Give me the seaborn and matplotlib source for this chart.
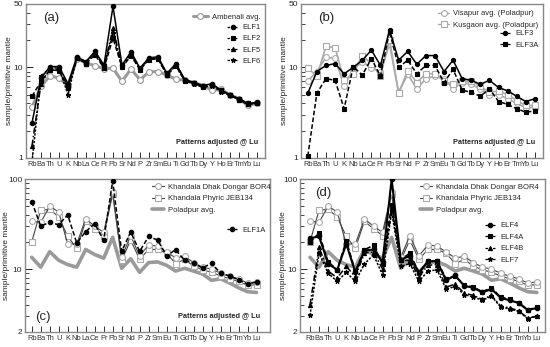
import numpy as np
import pandas as pd
import matplotlib
matplotlib.use("Agg")
import matplotlib.pyplot as plt
from matplotlib.lines import Line2D
from matplotlib.ticker import FixedLocator, NullFormatter
import seaborn as sns

sns.set_style("ticks")
plt.rcParams['font.family'] = ['Liberation Sans', 'DejaVu Sans']

elements = ["Rb", "Ba", "Th", "U", "K", "Nb", "La", "Ce", "Pr", "Pb", "Sr", "Nd", "P",
            "Zr", "Sm", "Eu", "Ti", "Gd", "Tb", "Dy", "Y", "Ho", "Er", "Tm", "Yb", "Lu"]

# Panel (a)
ambenali = [3.65, 6.2, 8.1, 7.6, 6.3, 12.5, 11.2, 10.4, 9.7, 9.8, 7.0, 9.6, 7.3,
            8.9, 9.0, 8.2, 7.4, 7.2, 6.8, 6.3, 5.6, 5.7, 5.0, 4.5, 3.8, 4.0]
elf1 = [2.45, 7.6, 10.2, 10.2, 6.6, 13.0, 11.6, 15.0, 10.6, 47, 10.6, 14.8, 9.8,
        12.8, 13.0, 8.6, 11.0, 7.3, 6.8, 6.3, 6.6, 5.6, 5.0, 4.5, 4.0, 4.1]
elf2 = [4.8, 7.0, 9.4, 9.2, 5.9, 12.7, 11.0, 13.8, 9.8, 21, 10.0, 13.4, 9.4,
        12.2, 12.4, 8.2, 10.4, 7.0, 6.7, 6.0, 6.4, 5.6, 4.9, 4.5, 4.0, 4.0]
elf5 = [1.37, 6.6, 9.6, 9.5, 6.2, 12.8, 11.0, 14.6, 10.0, 27, 10.4, 14.4, 9.6,
        12.5, 12.7, 8.5, 10.8, 7.2, 6.8, 6.2, 6.4, 5.5, 5.0, 4.4, 3.9, 4.1]
elf6 = [0.9, 8.0, 9.9, 9.8, 5.0, 13.0, 11.5, 14.8, 10.0, 24, 10.0, 14.2, 9.5,
        12.4, 12.5, 8.3, 10.5, 7.0, 6.6, 6.0, 6.3, 5.4, 4.9, 4.4, 3.9, 4.0]

# Panel (b)
visapur = [7.1, 9.0, 12.9, 12.6, 6.2, 9.5, 11.5, 9.8, 9.0, 18, 5.3, 8.4, 5.8,
           7.5, 8.0, 7.5, 5.8, 6.8, 6.5, 5.8, 5.0, 5.0, 4.5, 4.0, 3.6, 3.6]
kusgaon = [9.8, 8.0, 17, 16.5, 7.2, 8.5, 13.5, 11.0, 8.0, 20, 5.2, 9.2, 6.8,
           8.5, 8.5, 7.0, 6.5, 7.0, 7.0, 6.2, 5.3, 5.5, 5.0, 4.3, 3.8, 3.8]
elf3 = [5.2, 9.0, 10.5, 11.0, 8.5, 10.0, 12.0, 15.5, 10.5, 26, 12.0, 15.0, 10.8,
        13.5, 13.5, 9.0, 12.0, 7.5, 7.2, 6.5, 7.2, 6.0, 5.5, 4.8, 4.2, 4.5]
elf3a = [1.05, 5.2, 7.5, 7.2, 3.5, 10.2, 8.2, 12.5, 8.0, 25, 10.0, 12.0, 8.5,
         10.5, 10.5, 6.8, 9.5, 5.6, 5.3, 4.8, 5.8, 4.2, 3.9, 3.5, 3.2, 3.3]

# Panels (c) and (d) references
bor4 = [34, 33, 50, 43, 19, 19, 36, 30, 25.5, 72, 13.5, 23.5, 14.0,
        18.5, 18.0, 15.5, 13.3, 13.8, 11.8, 10.5, 10.0, 9.0, 8.3, 7.8, 7.0, 7.2]
jeb134 = [20, 45, 46, 38, 23, 17, 34, 28, 23.5, 68, 12.5, 21, 12.8,
          16.5, 16.5, 15.0, 11.5, 12.8, 10.8, 9.8, 9.2, 8.4, 7.8, 7.3, 6.6, 6.7]
poladpur = [13.5, 10.5, 15.6, 12.5, 11.2, 10.5, 16.5, 14.5, 13.2, 22.5, 10.2, 13.0, 9.2,
            11.8, 12.0, 11.0, 9.5, 10.2, 9.5, 8.8, 7.5, 7.8, 7.0, 6.2, 5.6, 5.5]
elf1a = [56, 30, 33, 31, 40, 19.5, 26, 32, 20.8, 95, 15.7, 25.8, 15.7,
         23, 21, 14, 16.4, 12.5, 11.6, 10.3, 11.6, 9.0, 8.4, 7.6, 6.8, 7.2]

# Panel (d)
elf4 = [22, 23, 11.5, 9.8, 19, 9.2, 16.0, 16.5, 12.0, 100, 12.7, 14.0, 9.0,
        12.2, 12.2, 7.5, 8.5, 6.5, 6.2, 5.5, 6.0, 4.8, 4.5, 4.2, 3.5, 3.7]
elf4a = [20, 25, 12.0, 9.8, 20.6, 9.4, 16.4, 18.3, 11.4, 52, 12.7, 15.0, 9.2,
         12.2, 12.3, 7.8, 8.3, 6.7, 6.3, 5.6, 6.2, 4.9, 4.6, 4.2, 3.55, 3.75]
elf4b = [4.0, 17.4, 9.5, 8.0, 10.7, 8.2, 15.0, 15.5, 10.0, 46, 12.5, 12.5, 8.2,
         11.0, 11.2, 6.3, 6.8, 5.4, 5.1, 4.6, 5.1, 3.9, 3.7, 3.45, 2.85, 3.0]
elf7 = [3.05, 15.0, 9.0, 7.3, 9.2, 7.3, 11.4, 14.4, 8.6, 43, 10.7, 11.5, 7.3,
        9.5, 9.8, 6.0, 6.4, 5.2, 4.9, 4.5, 5.0, 3.8, 3.6, 3.4, 2.8, 3.0]

x = np.arange(len(elements))
GRAY = "#9a9a9a"
DARK = "#444444"
LIGHT = "#aaaaaa"
FS = 5.5
BLW = 1.1


def draw(ax, vals, color, lw, marker=None, ms=3.5, mfc=None, mec=None, ls="-", z=2):
    df = pd.DataFrame({"pos": x, "val": vals})
    kw = dict(color=color, linewidth=lw, linestyle=ls, zorder=z)
    if marker is not None:
        kw.update(marker=marker, markersize=ms,
                  markerfacecolor=mfc if mfc is not None else color,
                  markeredgecolor=mec if mec is not None else color,
                  markeredgewidth=0.8)
    sns.lineplot(data=df, x="pos", y="val", ax=ax, sort=False, **kw)


def handle(color, lw, marker=None, ms=3.5, mfc=None, mec=None, ls="-"):
    return Line2D([], [], color=color, lw=lw, ls=ls, marker=marker, markersize=ms,
                  markerfacecolor=mfc if mfc is not None else color,
                  markeredgecolor=mec if mec is not None else color, markeredgewidth=0.8)


def style_axis(ax, ylo, yhi, majors, labels, minors, xlim, labx):
    ax.set_yscale("log")
    ax.set_ylim(ylo, yhi)
    ax.set_xlim(*xlim)
    ax.yaxis.set_major_locator(FixedLocator(majors))
    ax.set_yticklabels(labels)
    ax.yaxis.set_minor_locator(FixedLocator(minors))
    ax.yaxis.set_minor_formatter(NullFormatter())
    ax.set_xticks(x)
    ax.set_xticklabels(elements)
    ax.tick_params(axis="x", direction="in", length=4, width=0.7, labelsize=5.4, pad=2.5, colors="#333333")
    ax.tick_params(axis="y", which="major", direction="in", length=5, width=0.7, labelsize=6, pad=2)
    ax.tick_params(axis="y", which="minor", direction="in", length=3, width=0.6)
    for s in ax.spines.values():
        s.set_color("#888888")
        s.set_linewidth(1.0)
    ax.set_xlabel("")
    ax.set_ylabel("sample/primitive mantle", fontsize=6)
    ax.yaxis.set_label_coords(labx, 0.5)


fig = plt.figure(figsize=(5.5, 3.47), dpi=100)
W, H = 550, 347


def add_axes(l, r, t, b):
    return fig.add_axes([l / W, 1 - b / H, (r - l) / W, (b - t) / H])


axA = add_axes(26, 265, 4, 158)
axB = add_axes(301, 543, 4, 158)
axC = add_axes(25, 270, 179, 332)
axD = add_axes(300, 545, 179, 332)

minors_a = [2, 3, 4, 5, 6, 7, 8, 9, 20, 30, 40]
minors_c = [3, 4, 5, 6, 7, 8, 9, 20, 30, 40, 50, 60, 70, 80, 90]

# ---- (a)
draw(axA, ambenali, GRAY, 2.2, "o", 4.2, "white", GRAY, z=2)
draw(axA, elf1, "black", BLW, "o", 3.2, ls="-", z=3)
draw(axA, elf2, "black", BLW, "s", 3.0, ls=(0, (3, 1.5)), z=3)
draw(axA, elf5, "black", BLW, "^", 3.0, ls=(0, (4, 1.5, 1, 1.5)), z=3)
draw(axA, elf6, "black", BLW, "*", 3.5, ls=(0, (1.5, 1)), z=3)
style_axis(axA, 1, 50, [1, 10, 50], ["1", "10", "50"], minors_a, (-0.67, 25.9), -0.055)
leg1 = axA.legend([handle(GRAY, 2.2, "o", 4.2, "white", GRAY)], ["Ambenali avg."],
                  loc="upper right", bbox_to_anchor=(1.0, 0.97), frameon=False, fontsize=FS,
                  handlelength=2.0, handletextpad=0.5, borderaxespad=0.2)
axA.add_artist(leg1)
axA.legend([handle("black", 0.9, "o", 3.2, ls=(0, (2, 1))),
            handle("black", 0.9, "s", 3.0, ls=(0, (2, 1))),
            handle("black", 0.9, "^", 3.0, ls=(0, (2, 1))),
            handle("black", 0.9, "*", 3.5, ls=(0, (2, 1)))],
           ["ELF1", "ELF2", "ELF5", "ELF6"], loc="upper right", bbox_to_anchor=(1.0, 0.9),
           frameon=False, fontsize=FS, handlelength=1.5, handletextpad=0.5,
           labelspacing=0.5, borderaxespad=0.2)
axA.text(0.07, 0.89, "(a)", transform=axA.transAxes, fontsize=9.5)
axA.text(0.97, 0.1, "Patterns adjusted @ Lu", transform=axA.transAxes, fontsize=5.3,
         fontweight="bold", ha="right", va="center")

# ---- (b)
draw(axB, visapur, LIGHT, 1.2, "o", 4.2, "white", LIGHT, z=2)
draw(axB, kusgaon, LIGHT, 1.2, "s", 4.0, "white", LIGHT, z=2)
draw(axB, elf3, "black", BLW, "o", 3.0, ls="-", z=3)
draw(axB, elf3a, "black", BLW, "s", 3.0, ls=(0, (3, 1.5)), z=3)
style_axis(axB, 1, 50, [1, 10, 50], ["1", "10", "50"], minors_a, (-0.75, 25.9), -0.055)
leg2 = axB.legend([handle(LIGHT, 1.0, "o", 4.2, "white", LIGHT),
                   handle(LIGHT, 1.0, "s", 4.0, "white", LIGHT)],
                  ["Visapur avg. (Poladpur)", "Kusgaon avg. (Poladpur)"],
                  loc="upper right", bbox_to_anchor=(1.0, 0.99), frameon=False, fontsize=FS,
                  handlelength=1.5, handletextpad=0.5, labelspacing=0.5, borderaxespad=0.2)
axB.add_artist(leg2)
axB.legend([handle("black", 0.9, "o", 3.0, ls=(0, (2, 1))),
            handle("black", 0.9, "s", 3.0, ls=(0, (2, 1)))],
           ["ELF3", "ELF3A"], loc="upper right", bbox_to_anchor=(1.0, 0.86),
           frameon=False, fontsize=FS, handlelength=1.5, handletextpad=0.5,
           labelspacing=0.5, borderaxespad=0.2)
axB.text(0.07, 0.89, "(b)", transform=axB.transAxes, fontsize=9.5)
axB.text(0.97, 0.1, "Patterns adjusted @ Lu", transform=axB.transAxes, fontsize=5.3,
         fontweight="bold", ha="right", va="center")


def refs(ax):
    draw(ax, poladpur, GRAY, 2.6, z=2)
    draw(ax, jeb134, DARK, 0.8, "s", 4.0, "white", LIGHT, z=2.5)
    draw(ax, bor4, DARK, 0.8, "o", 4.2, "white", LIGHT, z=2.5)


def ref_legend(ax, xa):
    leg = ax.legend([handle(DARK, 0.8, "o", 4.2, "white", LIGHT),
                     handle(DARK, 0.8, "s", 4.0, "white", LIGHT),
                     handle(GRAY, 2.6)],
                    ["Khandala Dhak Dongar BOR4", "Khandala Phyric JEB134", "Poladpur avg."],
                    loc="upper left", bbox_to_anchor=(xa, 1.0), frameon=False, fontsize=FS,
                    handlelength=1.6, handletextpad=0.5, labelspacing=0.55, borderaxespad=0.2)
    ax.add_artist(leg)


# ---- (c)
refs(axC)
draw(axC, elf1a, "black", BLW, "o", 3.2, ls=(0, (3, 1.5)), z=3)
style_axis(axC, 2, 100, [2, 10, 100], ["2", "10", "100"], minors_c, (-0.75, 26.5), -0.06)
ref_legend(axC, 0.5)
axC.legend([handle("black", 0.9, "o", 3.2, ls=(0, (2, 1)))], ["ELF1A"],
           loc="upper right", bbox_to_anchor=(1.0, 0.72), frameon=False, fontsize=FS,
           handlelength=1.5, handletextpad=0.5, borderaxespad=0.2)
axC.text(0.04, 0.08, "(c)", transform=axC.transAxes, fontsize=9.5)
axC.text(0.96, 0.1, "Patterns adjusted @ Lu", transform=axC.transAxes, fontsize=5.3,
         fontweight="bold", ha="right", va="center")

# ---- (d)
refs(axD)
draw(axD, elf4, "black", 1.5, "o", 3.2, ls="-", z=3)
draw(axD, elf4a, "black", 1.2, "s", 3.0, ls=(0, (3, 1.5)), z=3)
draw(axD, elf4b, "black", BLW, "^", 3.0, ls=(0, (4, 1.5, 1, 1.5)), z=3)
draw(axD, elf7, "black", BLW, "*", 3.5, ls=(0, (1.5, 1)), z=3)
style_axis(axD, 2, 100, [2, 10, 100], ["2", "10", "100"], minors_c, (-1.1, 25.9), -0.055)
ref_legend(axD, 0.47)
axD.legend([handle("black", 0.9, "o", 3.2, ls=(0, (2, 1))),
            handle("black", 0.9, "s", 3.0, ls=(0, (2, 1))),
            handle("black", 0.9, "^", 3.0, ls=(0, (2, 1))),
            handle("black", 0.9, "*", 3.5, ls=(0, (2, 1)))],
           ["ELF4", "ELF4A", "ELF4B", "ELF7"], loc="upper right", bbox_to_anchor=(0.93, 0.75),
           frameon=False, fontsize=FS, handlelength=1.5, handletextpad=0.5,
           labelspacing=0.55, borderaxespad=0.2)
axD.text(0.06, 0.89, "(d)", transform=axD.transAxes, fontsize=9.5)

fig.savefig("out.png", dpi=100)
